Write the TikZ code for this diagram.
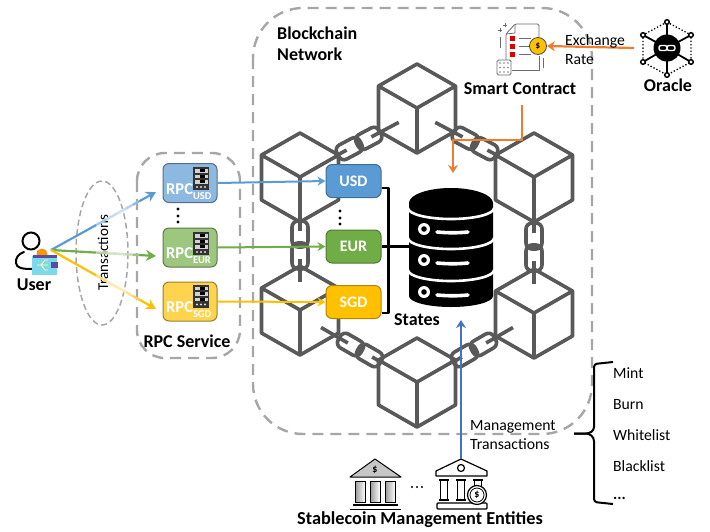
\documentclass[tikz,border=0pt]{standalone}
\usepackage{fontspec}
\setmainfont{Carlito}
\usetikzlibrary{calc,arrows.meta}
\definecolor{cubegray}{HTML}{595959}
\definecolor{dashgray}{HTML}{A6A6A6}
\definecolor{usdc}{HTML}{5B9BD5}
\definecolor{eurc}{HTML}{70AD47}
\definecolor{sgdc}{HTML}{FFC000}
\definecolor{usdl}{HTML}{8DB9E0}
\definecolor{eurl}{HTML}{9DC67F}
\definecolor{sgdl}{HTML}{FFD34D}
\definecolor{orangec}{HTML}{ED7D31}
\definecolor{blueman}{HTML}{4472C4}
\definecolor{walletc}{HTML}{7FD8EA}
\definecolor{walletd}{HTML}{5B4BA0}
\newcommand{\chainbody}[1]{%
    \draw[cubegray,line width=3.6pt,rounded corners=6pt] (-8,-24) rectangle (8,2);
    \draw[cubegray,line width=3.6pt,rounded corners=6pt] (-8,-2) rectangle (8,24);
    \draw[cubegray,line width=3.6pt] (0,-24)--(0,-14) (-8,0)--(8,0) (0,14)--(0,#1);
}
\tikzset{
  x=1pt,y=-1pt,
  dashbox/.style={draw=dashgray,line width=2.4pt,dash pattern=on 11pt off 7pt,rounded corners=28pt},
  coinbox/.style={draw=#1!70!black,line width=1pt,rounded corners=6pt,minimum width=55pt,minimum height=33pt,inner sep=0pt,text=white,font=\bfseries\fontsize{16}{16}\selectfont},
  rpcbox/.style={draw=#1!60!black,fill=#1,line width=1pt,rounded corners=6pt,minimum width=54pt,minimum height=39pt,inner sep=0pt},
  lbl/.style={inner sep=0pt,font=\bfseries\fontsize{18}{18}\selectfont,align=left},
  plain/.style={inner sep=0pt,font=\fontsize{15.7}{15.7}\selectfont,align=left},
  flow/.style={line width=2.2pt,-{Stealth[length=10pt,width=11pt]},draw=#1},
  thinflow/.style={line width=2pt,-{Stealth[length=8pt,width=9pt]},draw=#1},
  cubepic/.pic={
    \draw[cubegray,line width=3.6pt,line join=round]
      (0,-44)--(38.5,-22)--(38.5,23)--(0,45)--(-38.5,23)--(-38.5,-22)--cycle
      (-38.5,-22)--(0,0)--(38.5,-22) (0,0)--(0,45);
  },
  chainpic/.pic={\chainbody{37}},
  chainpicb/.pic={\chainbody{45}},
  serverpic/.pic={
    \fill[black!80] (-8,-11.5) rectangle (8,11.5);
    \foreach \yy in {-9.5,-4,1.5}{
      \fill[white!65!gray] (-6.5,\yy) rectangle (6.5,\yy+3.6);
      \fill[black] (-1,\yy+.4) rectangle (3.5,\yy+3.2);
    }
    \foreach \xx in {-4,0,4}{\fill[white!75!gray] (\xx,8.5) circle (1.2);}
  },
}
\begin{document}
\begin{tikzpicture}
\useasboundingbox (0,0) rectangle (710,531);
% dashed containers
\draw[dashbox,rounded corners=50pt] (253,8) rectangle (592,434);
\draw[dashbox] (137,153) rectangle (240,358);
% chains then cubes
\pic at (359,143.5) [rotate=118] {chainpicb};
\pic at (475,143.5) [rotate=-118] {chainpicb};
\pic at (300,245) {chainpic};
\pic at (534,247) {chainpic};
\pic at (360,350) [rotate=-120] {chainpicb};
\pic at (474,350) [rotate=120] {chainpicb};
\pic at (417,108) {cubepic};
\pic at (300,177) {cubepic};
\pic at (534,177) {cubepic};
\pic at (300,310) {cubepic};
\pic at (534,313) {cubepic};
\pic at (417,382) {cubepic};
% titles
\node[lbl,anchor=base west,font=\bfseries\fontsize{18}{21}\selectfont] (bc) at (277,60) {Blockchain\\Network};
\node[lbl] (rpcsvc) at (187,341) {RPC Service};
\node[lbl] (sc) at (520,89) {Smart Contract};
\node[lbl] (oraclelbl) at (668,85) {Oracle};
\node[lbl] (userlbl) at (34,285) {User};
\node[lbl] (stateslbl) at (417,320) {States};
\node[lbl,font=\bfseries\fontsize{18.3}{18}\selectfont] (smelbl) at (420,520) {Stablecoin Management Entities};
% ellipse
\draw[dashgray,line width=1.5pt,dash pattern=on 6pt off 3.5pt] (102,253) ellipse [x radius=26,y radius=72];
\node[plain,rotate=90,font=\fontsize{15}{15}\selectfont] (txlbl) at (103,253) {Transactions};
% user icon
\coordinate (userpt) at (51,250);
\draw[black,line width=2pt] (31,241) circle (8.5);
\draw[black,line width=2pt,line cap=round] (24,252) .. controls (18,254) and (15.5,258) .. (16,263) .. controls (16.5,268) and (22,269) .. (32,269);
\draw[black,line width=2pt,line cap=round] (38,252) .. controls (41,253) and (43,254) .. (45,256);
\fill[orange!85!yellow] (42,254) circle (5.5);
\fill[walletc] (32,256) rectangle (57,275);
\fill[walletd] (33,255) rectangle (57,257.5);
\fill[walletd] (51,262) rectangle (58,268);
\draw[white!70!yellow,line width=.8pt] (37,265)--(41,265)--(45,260)--(48,260) (41,265)--(48,265) (41,265)--(45,270)--(48,270);
% RPC boxes
\node[rpcbox=usdl] (rpcu) at (190,183) {};
\node[rpcbox=eurl] (rpce) at (190,247.5) {};
\node[rpcbox=sgdl] (rpcs) at (190,301.5) {};
\foreach \nn/\ss/\yy/\sy in {rpcu/USD/183/178.5,rpce/EUR/247.5/243.5,rpcs/SGD/301.5/296}{
  \pic at (201,\sy) {serverpic};
  \node[anchor=base west,inner sep=0pt,text=white,font=\bfseries\fontsize{16.5}{16.5}\selectfont] at (166,\yy+11) {RPC\raisebox{-5pt}{\fontsize{10.5}{10.5}\selectfont\ss}};
}
\foreach \yy in {209,216,222}{\fill[black] (178,\yy) circle (1.6);}
% coin boxes
\node[coinbox=usdc,fill=usdc] (usd) at (353.5,181) {USD};
\node[coinbox=eurc,fill=eurc] (eur) at (353.5,246.5) {EUR};
\node[coinbox=sgdc,fill=sgdc] (sgd) at (353.5,302) {SGD};
\foreach \yy in {211,218,224}{\fill[black] (340,\yy) circle (1.6);}
% user arrows with fading
\foreach \tgt/\yy/\cc in {rpcu/192/usdc,rpce/256/eurc,rpcs/309/sgdc}{
  \coordinate (end\tgt) at (156,\yy);
  \draw[flow=\cc] (userpt)--(end\tgt);
  \foreach \ta/\tb/\op in {.43/.53/.45,.53/.63/.65,.63/.71/.7,.71/.78/.55,.78/.84/.3}{
    \draw[white,opacity=\op,line width=2.6pt] ($(userpt)!\ta!(end\tgt)$)--($(userpt)!\tb!(end\tgt)$);
  }
}
% RPC to coin
\draw[thinflow=usdc] (rpcu.east) -- (usd.west);
\draw[thinflow=eurc] (rpce.east) -- (eur.west);
\draw[thinflow=sgdc] (rpcs.east) -- (sgd.west);
% database
\node[inner sep=0pt,minimum width=84pt,minimum height=118pt] (states) at (451,247) {};
\fill[black] (409,203) arc[start angle=180,end angle=360,x radius=42,y radius=15] -- (493,296) arc[start angle=0,end angle=180,x radius=42,y radius=11] -- cycle;
\foreach \yy in {208,238,270}{
  \draw[white,line width=2.6pt] (408,\yy) arc[start angle=180,end angle=0,x radius=43,y radius=11];
}
\foreach \yy in {229,260,292}{
  \fill[white] (424,\yy) circle (6);
  \fill[black] (424,\yy) circle (2.8);
  \draw[white,line width=3.6pt,line cap=round] (437,\yy+3) .. controls (448,\yy+4) and (458,\yy+4) .. (468,\yy+3);
}
% bracket
\draw[black,line width=2.6pt,line join=round] ([yshift=-7pt]usd.east)--++(7,0)|-([yshift=-11pt]sgd.east);
\draw[black,line width=3pt] (eur.east)--(states.west|-eur.east);
% smart contract icon
\begin{scope}[gray!85!black,line width=.8pt]
  \draw[rounded corners=1.5pt] (506,70) -- (506,34) -- (515,24) -- (539,24) -- (539,37);
  \draw (539,56)--(539,70)--(512,70);
  \draw (515,24)--(515,33)--(506,34);
  \foreach \yy in {38,46,54}{
    \fill[red!85!black] (509.5,\yy-2.5) rectangle (514.5,\yy+2.5);
    \draw (519,\yy)--(531,\yy);
  }
  \draw (500,37)--(500,48) (543,58)--(543,68);
  \draw (498,30)--(502,30) (500,28)--(500,32) (503,25)--(507,25) (505,23)--(505,27);
  \draw[rounded corners=1.5pt,fill=white] (497,60) rectangle (511,75);
  \foreach \xx in {500,504,508}\foreach \yy in {63,67.5,72}{\fill[gray] (\xx,\yy) circle (.9);}
\end{scope}
\node[circle,draw=black!70,fill=sgdc,line width=.8pt,minimum size=17pt,inner sep=0pt,font=\bfseries\fontsize{9}{9}\selectfont] (coin) at (538,46) {\$};
% oracle
\coordinate (oc) at (667,48);
\node[circle,fill=black,minimum size=27pt,inner sep=0pt] (orc) at (oc) {};
\draw[black,line width=1.3pt,dotted] (667,22)--(691,35)--(691,62)--(667,75)--(643,62)--(643,35)--cycle;
\foreach \xx/\yy in {667/22,691/35,691/62,667/75,643/62,643/35}{
  \draw[black,line width=1.8pt] (oc)--(\xx,\yy);
  \draw[black,line width=1.5pt,fill=white] (\xx,\yy) circle (2.3);
}
\draw[white,line width=1.4pt,rounded corners=2pt] (659,45.5) rectangle (667,50.5);
\draw[white,line width=1.4pt,rounded corners=2pt] (667,45.5) rectangle (675,50.5);
% exchange rate
\draw[line width=2.2pt,orangec,-{Stealth[length=8pt,width=10pt]}] (634,48)--(coin.east);
\node[plain,anchor=base west,font=\fontsize{15.7}{19}\selectfont] (exlbl) at (565,64) {Exchange\\Rate};
% smart contract to states
\coordinate (scdrop) at (522,105);
\coordinate (scturn) at (522,140);
\coordinate (scend) at (453,173);
\draw[line width=2.2pt,orangec,-{Stealth[length=8pt,width=10pt]}] (scdrop)--(scturn)-|(scend);
% banks
\begin{scope}[black,line width=1pt]
  \draw[fill=gray!45,line join=round] (375,459)--(401,477)--(350,477)--cycle;
  \node[inner sep=0pt,font=\bfseries\fontsize{10}{10}\selectfont] (bankleft) at (375,470) {\$};
  \foreach \xx in {360,375,390}{
    \draw[left color=gray!80,right color=white] (\xx-5,481) rectangle (\xx+5,502);
  }
  \draw[line width=1.2pt] (353,505)--(398,505);
  \draw[line width=1.6pt] (350,509.5)--(401,509.5);
\end{scope}
\begin{scope}[black,line width=1.2pt]
  \draw[line join=round,fill=white] (461,459)--(487,471)--(487,476)--(436,476)--(436,471)--cycle;
  \draw (461,468) circle (3.5);
  \foreach \xx in {444,461,478}{
    \draw (\xx-3.5,480) rectangle (\xx+3.5,500);
    \draw (\xx-5,480)--(\xx+5,480) (\xx-5,500)--(\xx+5,500);
  }
  \draw[rounded corners=1pt,line width=1.4pt,fill=white] (437,503) rectangle (487,509);
  \node[circle,draw=black,fill=white,minimum size=19pt,inner sep=0pt,line width=1.2pt] (bankright) at (477,495) {};
  \node[circle,draw=black,minimum size=14pt,inner sep=0pt,line width=.8pt,font=\bfseries\fontsize{10}{10}\selectfont] at (477,495) {\$};
\end{scope}
\foreach \xx in {412,417,422}{\fill[black] (\xx,487) circle (1.2);}
% management arrow
\coordinate (mgtop) at (461,320);
\coordinate (mgbot) at (461,459);
\draw[line width=2.2pt,blueman,-{Stealth[length=8pt,width=10pt]}] (mgbot)--(mgtop);
\node[plain,anchor=base west,font=\fontsize{15.7}{19}\selectfont] (mglbl) at (470,449) {Management\\Transactions};
% brace
\draw[black,line width=2pt,line join=round,rounded corners=3pt] (613,362)--(594,364)--(594,430)--(589,433.5)--(574,433.5);
\draw[black,line width=2pt,line join=round,rounded corners=3pt] (574,433.5)--(589,433.5)--(594,438)--(594,502)--(613,504);
\node[plain,anchor=base west] (mint) at (613,378) {Mint};
\node[plain,anchor=base west] (burn) at (613,409) {Burn};
\node[plain,anchor=base west] (wl) at (613,440) {Whitelist};
\node[plain,anchor=base west] (bl) at (613,471) {Blacklist};
\node[plain,anchor=base west,font=\bfseries\fontsize{15.7}{16}\selectfont] (more) at (613,499) {...};
\end{tikzpicture}
\end{document}
